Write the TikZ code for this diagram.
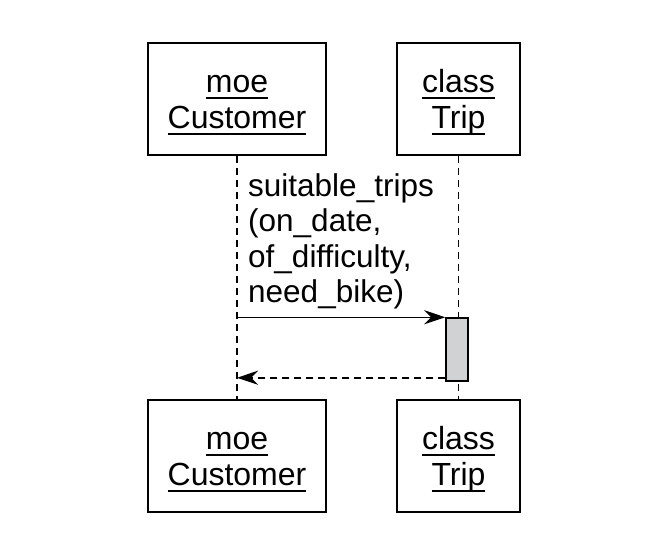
\documentclass[tikz,border=0pt]{standalone}
\usepackage{fontspec}
\setmainfont{Liberation Sans}
\usetikzlibrary{arrows.meta,calc}
\definecolor{actgray}{RGB}{208,210,212}
\newcommand{\objname}[1]{\setbox0\hbox{#1}\leavevmode\rlap{\rule[-6pt]{\wd0}{1.6pt}}\box0}
\newcommand{\objlines}[2]{\rule{0pt}{31pt}\objname{#1}\\\objname{#2}\rule[-8pt]{0pt}{8pt}}

\begin{document}
\begin{tikzpicture}[x=1pt, y=-1pt,
    object/.style = {draw, line width=1.8pt, minimum width=178pt, minimum height=112pt, align=center, font=\fontsize{32}{36}\selectfont},
    lifeline/.style = {line width=1.6pt, dash pattern=on 7pt off 5pt},
    msg/.style = {line width=1.5pt, -{Stealth[length=21pt,width=14pt]}}]
    \useasboundingbox (0,0) rectangle (647,536);
    % Draw the objects
    \node[object] (custtop) at (237,99) {\objlines{moe}{Customer}};
    \node[object, minimum width=123pt] (triptop) at (458.5,99) {\objlines{class}{Trip}};
    \node[object] (custbot) at (237,456) {\objlines{moe}{Customer}};
    \node[object, minimum width=123pt] (tripbot) at (458.5,456) {\objlines{class}{Trip}};
    % Draw the lifelines
    \draw[lifeline] (custtop) -- (custbot);
    \draw[lifeline] (triptop) -- (tripbot);
    % Draw the activation
    \node[draw, fill=actgray, line width=1.5pt, minimum width=22pt, minimum height=63pt, inner sep=0pt] (act) at (457,349.5) {};
    % Draw the call and the return
    \coordinate (callstart) at (custtop.south |- act.north west);
    \coordinate (retstart) at ($(act.south west)+(0,-4)$);
    \draw[msg] (callstart) -- (act.north west);
    \draw[msg, dash pattern=on 7pt off 5pt] (retstart) -- (retstart -| custtop.south);
    \node[anchor=south west, align=left, inner sep=0pt, font=\fontsize{31.5}{35.3}\selectfont] (call) at ($(callstart)+(11,-8)$) {suitable\_trips\\(on\_date,\\of\_difficulty,\\need\_bike)};
\end{tikzpicture}
\end{document}
